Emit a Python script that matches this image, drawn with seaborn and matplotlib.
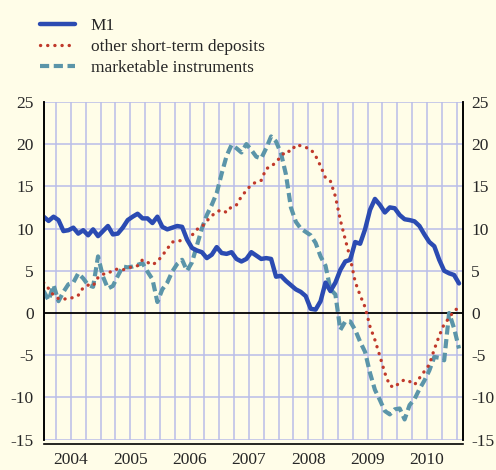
import numpy as np
import pandas as pd
import matplotlib
matplotlib.use('Agg')
import matplotlib.pyplot as plt
import seaborn as sns

# monthly, Jan 2004 .. Jan 2011 (annual growth rates, %)
m1 = [11.4, 10.9, 11.4, 11.0, 9.7, 9.8, 10.1, 9.4, 9.8, 9.2, 9.9, 9.1,
      9.7, 10.3, 9.3, 9.4, 10.1, 11.0, 11.4, 11.75, 11.2, 11.2, 10.65, 11.4,
      10.2, 9.9, 10.1, 10.3, 10.2, 8.7, 7.7, 7.4, 7.2, 6.5, 6.9, 7.8,
      7.1, 7.0, 7.2, 6.4, 6.1, 6.4, 7.2, 6.8, 6.4, 6.5, 6.4, 4.3,
      4.4, 3.8, 3.3, 2.8, 2.5, 2.0, 0.5, 0.4, 1.4, 3.6, 2.6, 3.6,
      5.1, 6.1, 6.3, 8.4, 8.2, 9.9, 12.2, 13.5, 12.8, 11.9, 12.5, 12.4,
      11.6, 11.1, 11.0, 10.85, 10.3, 9.3, 8.4, 7.9, 6.3, 5.0, 4.7, 4.5,
      3.5]
other_st = [3.6, 2.9, 2.1, 1.7, 1.6, 1.8, 1.8, 2.1, 3.0, 3.3, 3.2, 4.2,
            4.6, 4.65, 5.1, 5.2, 5.1, 5.3, 5.5, 5.6, 6.3, 6.0, 5.7, 6.1,
            6.8, 7.6, 8.4, 8.5, 8.6, 8.9, 9.2, 9.9, 10.2, 10.9, 11.5, 12.0,
            12.2, 11.9, 12.6, 12.8, 13.8, 14.5, 15.2, 15.5, 15.7, 17.1, 17.3, 17.9,
            18.5, 19.2, 19.1, 19.9, 19.8, 19.6, 19.4, 18.6, 17.4, 16.0, 15.6, 13.8,
            11.0, 8.7, 6.5, 3.7, 2.1, 0.7, -1.6, -3.2, -5.1, -7.1, -8.6, -8.8,
            -8.2, -7.9, -8.1, -8.5, -7.7, -6.9, -6.1, -4.3, -2.7, -1.3, -0.6, 0.3,
            0.6]
marketable = [2.6, 1.5, 3.3, 1.4, 2.5, 3.4, 3.6, 4.7, 4.1, 3.3, 3.1, 6.7,
              4.3, 2.9, 3.2, 4.4, 5.5, 5.4, 5.5, 5.7, 5.9, 4.9, 4.0, 1.3,
              2.8, 3.6, 4.9, 5.8, 6.3, 5.0, 6.0, 8.0, 10.0, 11.6, 12.8, 14.2,
              16.5, 18.6, 19.9, 19.5, 19.0, 20.0, 19.3, 18.5, 18.3, 19.5, 20.9, 20.3,
              18.9, 16.4, 12.5, 10.8, 10.0, 9.6, 9.2, 8.3, 6.7, 5.6, 2.8, 2.2,
              -2.0, -1.0, -1.0, -2.0, -3.4, -4.6, -7.1, -9.1, -10.3, -11.6, -12.0, -11.4,
              -11.3, -12.6, -10.9, -10.2, -9.0, -8.0, -6.8, -5.2, -5.3, -5.6, 0.0, -1.8,
              -4.2]
years = ['2004', '2005', '2006', '2007', '2008', '2009', '2010']
yticks = [-15, -10, -5, 0, 5, 10, 15, 20, 25]

months = np.arange(len(m1))
df = pd.DataFrame({'month': months, 'M1': m1, 'other': other_st, 'mkt': marketable})

sns.set_style('white')
plt.rcParams['font.family'] = ['Liberation Serif', 'DejaVu Serif']

bg = '#fffde8'
grid_c = '#b9bde9'
fig = plt.figure(figsize=(4.96, 4.70), dpi=100, facecolor=bg)
ax = fig.add_axes([0.088, 0.0644, 0.8454, 0.719])
ax.set_facecolor(bg)

quarters = np.arange(2.5, 84, 3)
for q in quarters:
    ax.axvline(q, color=grid_c, lw=1.1, zorder=0)
for y in yticks:
    if y != 0:
        ax.axhline(y, color=grid_c, lw=1.1, zorder=0)
ax.axhline(0, color='black', lw=1.3, zorder=1)

sns.lineplot(data=df, x='month', y='mkt', ax=ax, color='#5b95a9', lw=3.0,
             linestyle=(0, (2.2, 1.1)), label='marketable instruments', zorder=3)
sns.lineplot(data=df, x='month', y='other', ax=ax, color='#c0392b', lw=2.4,
             linestyle=(0, (0.05, 2.1)), dash_capstyle='round',
             label='other short-term deposits', zorder=4)
sns.lineplot(data=df, x='month', y='M1', ax=ax, color='#2b4bb2', lw=3.2,
             label='M1', zorder=5)

ax.set_xlim(0, 84.8)
ax.set_ylim(-15, 25)
ax.set_xlabel('')
ax.set_ylabel('')

ax.xaxis.remove_overlapping_locs = False
ax.set_xticks(quarters)
ax.set_xticklabels([])
ax.set_xticks(np.arange(5.5, 84, 12), minor=True)
ax.set_xticklabels(years, minor=True)
ax.tick_params(axis='x', which='major', direction='out', length=6, width=1, color='black')
ax.tick_params(axis='x', which='minor', length=0, pad=6, labelsize=12.5)
ax.set_yticks(yticks)
ax.set_yticklabels([str(v) for v in yticks])
ax.tick_params(axis='y', length=0, pad=7, labelsize=12.5)

ax2 = ax.twinx()
ax2.set_ylim(-15, 25)
ax2.set_yticks(yticks)
ax2.set_yticklabels([str(v) for v in yticks])
ax2.tick_params(axis='y', length=0, pad=6, labelsize=12.5)
for a in (ax, ax2):
    a.spines['top'].set_visible(False)
    for s in ('left', 'right', 'bottom'):
        a.spines[s].set_color('black')
        a.spines[s].set_linewidth(1.2)
ax.spines['bottom'].set_position(('outward', 3))
ax2.spines['bottom'].set_visible(False)

handles, labels = ax.get_legend_handles_labels()
ax.get_legend().remove()
order = [2, 1, 0]
fig.legend([handles[i] for i in order], [labels[i] for i in order],
           loc='upper left', bbox_to_anchor=(0.081, 0.962), frameon=False,
           fontsize=12.5, handlelength=2.0, handletextpad=0.9,
           labelspacing=0.27, borderpad=0, borderaxespad=0)

fig.savefig('out.png', dpi=100, facecolor=bg)
